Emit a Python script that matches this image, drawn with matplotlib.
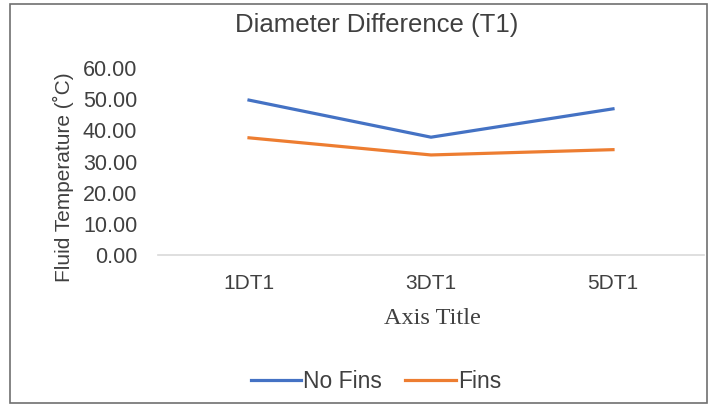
import matplotlib.pyplot as plt
from matplotlib.patches import Rectangle

categories = ["1DT1", "3DT1", "5DT1"]
no_fins = [49.7, 37.8, 46.9]
fins = [37.6, 32.1, 33.8]
y_ticks = [0, 10, 20, 30, 40, 50, 60]

W, H = 712, 407
fig = plt.figure(figsize=(W / 100, H / 100), dpi=100)
fig.patch.set_facecolor("white")

# outer frame
fig.patches.append(Rectangle((10 / W, 4 / H), 697 / W, 399 / H, transform=fig.transFigure,
                             fill=False, edgecolor="#707070", linewidth=1.2))

ax = fig.add_axes([158 / W, (H - 255) / H, 546 / W, 187 / H])
x = range(len(categories))
ax.plot(x, no_fins, color="#4472C4", linewidth=2.3, label="No Fins")
ax.plot(x, fins, color="#ED7D31", linewidth=2.3, label="Fins")

ax.set_xlim(-0.5, 2.5)
ax.set_ylim(0, 60)
ax.set_yticks(y_ticks)
ax.set_yticklabels([f"{v:.2f}" for v in y_ticks], fontsize=15.5, family="Liberation Sans", color="#404040")
ax.set_xticks(list(x))
ax.set_xticklabels(categories, fontsize=15, family="Liberation Sans", color="#404040")
ax.tick_params(length=0, pad=14, axis="x")
ax.tick_params(length=0, pad=15, axis="y")
for s in ["top", "right", "left"]:
    ax.spines[s].set_visible(False)
ax.spines["bottom"].set_color("#D9D9D9")
ax.spines["bottom"].set_linewidth(1.2)

fig.text(377 / W, 1 - 25 / H, "Diameter Difference (T1)", ha="center", va="center",
         fontsize=18.5, family="Liberation Sans", color="#404040")
fig.text(63 / W, 1 - 177 / H, "Fluid Temperature (˚C)", ha="center", va="center", rotation=90,
         fontsize=15, family="Liberation Sans", color="#404040")
fig.text(432 / W, 1 - 318 / H, "Axis Title", ha="center", va="center",
         fontsize=17.5, family="Liberation Serif", color="#404040")

fig.legend(loc="center", bbox_to_anchor=(376 / W, 1 - 382 / H), ncol=2, frameon=False,
           prop={"family": "Liberation Sans", "size": 16.5}, handlelength=2.2, handletextpad=0.1,
           columnspacing=1.0, labelcolor="#404040")

fig.savefig("out.png", dpi=100)
